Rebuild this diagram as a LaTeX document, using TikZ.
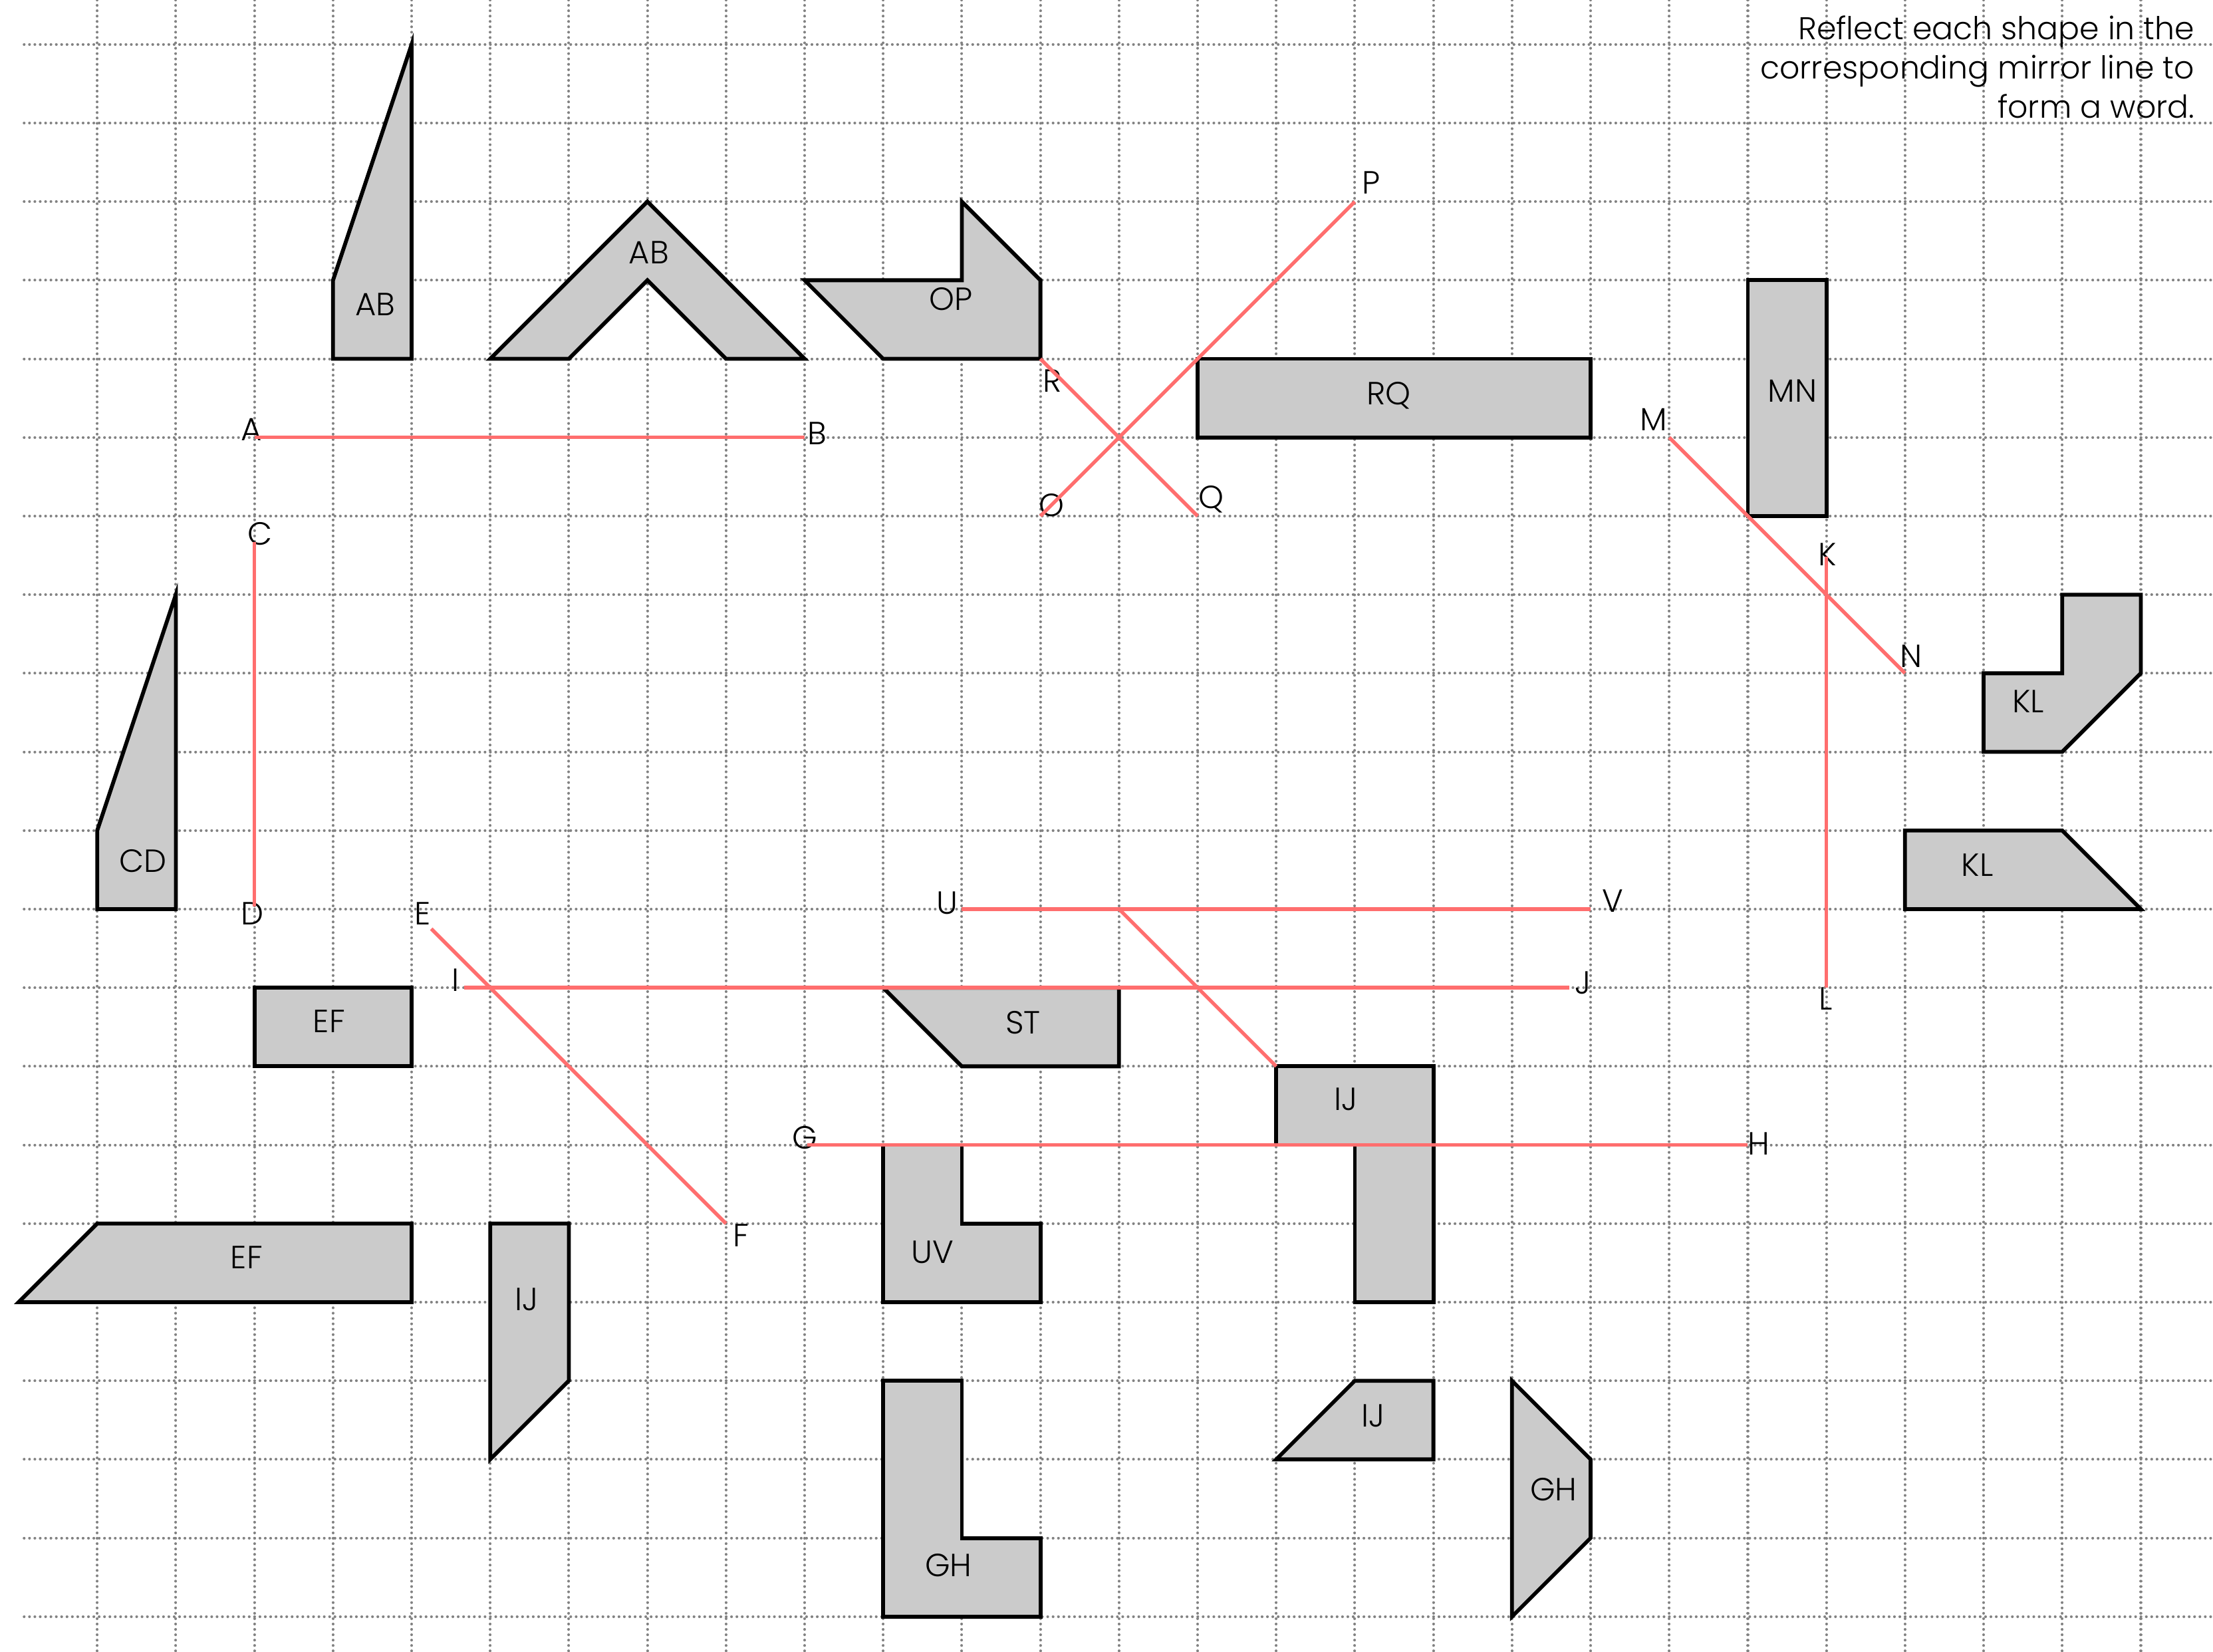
\documentclass[tikz,border=0pt]{standalone}
\usepackage{fontspec}
\setmainfont{Poppins Light}
\definecolor{gridgray}{RGB}{130,130,130}
\definecolor{shapegray}{RGB}{203,203,203}
\definecolor{mirror}{RGB}{255,110,110}
\tikzset{
  gridline/.style={draw=gridgray, line width=1pt, line cap=round, dash pattern=on 0.01pt off 1.93pt},
  shapebox/.style={draw=black, fill=shapegray, line width=1.4pt},
  mirrorline/.style={draw=mirror, line width=1.3pt},
  lbl/.style={inner sep=0pt, text height=8.1pt, text depth=0pt, anchor=center, font=\fontsize{11.6pt}{14.2pt}\selectfont},
  toptext/.style={inner sep=0pt, anchor=base east, font=\fontsize{11.4pt}{14.2pt}\selectfont}
}
\begin{document}
\begin{tikzpicture}[x=1cm,y=-1cm]
\useasboundingbox (-0.237,-0.565) rectangle (27.919,20.45);
% grid
\foreach \i in {1,...,27} \draw[gridline] (\i,-0.565) -- (\i,20.45);
\foreach \j in {0,...,20} \draw[gridline] (0.07,\j) -- (27.919,\j);
% shapes
\draw[shapebox] (5,0) -- (5,4) -- (4,4) -- (4,3) -- cycle;
\draw[shapebox] (6,4) -- (8,2) -- (10,4) -- (9,4) -- (8,3) -- (7,4) -- cycle;
\draw[shapebox] (10,3) -- (12,3) -- (12,2) -- (13,3) -- (13,4) -- (11,4) -- cycle;
\draw[shapebox] (15,4) rectangle (20,5);
\draw[shapebox] (22,3) rectangle (23,6);
\draw[shapebox] (26,7) -- (27,7) -- (27,8) -- (26,9) -- (25,9) -- (25,8) -- (26,8) -- cycle;
\draw[shapebox] (24,10) -- (26,10) -- (27,11) -- (24,11) -- cycle;
\draw[shapebox] (2,7) -- (2,11) -- (1,11) -- (1,10) -- cycle;
\draw[shapebox] (3,12) rectangle (5,13);
\draw[shapebox] (0,16) -- (1,15) -- (5,15) -- (5,16) -- cycle;
\draw[shapebox] (6,15) -- (7,15) -- (7,17) -- (6,18) -- cycle;
\draw[shapebox] (11,12) -- (14,12) -- (14,13) -- (12,13) -- cycle;
\draw[shapebox] (11,14) -- (12,14) -- (12,15) -- (13,15) -- (13,16) -- (11,16) -- cycle;
\draw[shapebox] (16,13) -- (18,13) -- (18,16) -- (17,16) -- (17,14) -- (16,14) -- cycle;
\draw[shapebox] (11,17) -- (12,17) -- (12,19) -- (13,19) -- (13,20) -- (11,20) -- cycle;
\draw[shapebox] (16,18) -- (17,17) -- (18,17) -- (18,18) -- cycle;
\draw[shapebox] (19,17) -- (20,18) -- (20,19) -- (19,20) -- cycle;
% shape labels
\node[lbl] (sAB1) at (4.54,3.31) {AB};
\node[lbl] (sAB2) at (8.02,2.65) {AB};
\node[lbl] (sOP) at (11.86,3.24) {OP};
\node[lbl] (sRQ) at (17.43,4.44) {RQ};
\node[lbl] (sMN) at (22.57,4.41) {MN};
\node[lbl] (sKL1) at (25.57,8.36) {KL};
\node[lbl] (sKL2) at (24.92,10.44) {KL};
\node[lbl] (sCD) at (1.58,10.39) {CD};
\node[lbl] (sEF1) at (3.95,12.43) {EF};
\node[lbl] (sEF2) at (2.9,15.43) {EF};
\node[lbl] (sIJ1) at (6.46,15.96) {IJ};
\node[lbl] (sST) at (12.78,12.44) {ST};
\node[lbl] (sUV) at (11.63,15.36) {UV};
\node[lbl] (sIJ2) at (16.89,13.42) {IJ};
\node[lbl] (sGH1) at (11.83,19.35) {GH};
\node[lbl] (sIJ3) at (17.23,17.44) {IJ};
\node[lbl] (sGH2) at (19.53,18.38) {GH};
% line labels
\node[lbl] (lA) at (2.96,4.9) {A};
\node[lbl] (lB) at (10.16,4.95) {B};
\node[lbl] (lC) at (3.075,6.23) {C};
\node[lbl] (lD) at (2.97,11.06) {D};
\node[lbl] (lE) at (5.14,11.06) {E};
\node[lbl] (lF) at (9.19,15.15) {F};
\node[lbl] (lI) at (5.56,11.9) {I};
\node[lbl] (lJ) at (19.9,11.94) {J};
\node[lbl] (lG) at (10.0,13.91) {G};
\node[lbl] (lH) at (22.14,13.98) {H};
\node[lbl] (lU) at (11.81,10.92) {U};
\node[lbl] (lV) at (20.28,10.9) {V};
\node[lbl] (lO) at (13.14,5.86) {O};
\node[lbl] (lP) at (17.21,1.76) {P};
\node[lbl] (lR) at (13.15,4.28) {R};
\node[lbl] (lQ) at (15.17,5.76) {Q};
\node[lbl] (lM) at (20.8,4.77) {M};
\node[lbl] (lN) at (24.08,7.78) {N};
\node[lbl] (lK) at (23.01,6.49) {K};
\node[lbl] (lL) at (22.99,12.14) {L};
% mirror line end points
\coordinate (a1) at (3,5);      \coordinate (a2) at (10,5);
\coordinate (c1) at (3,6.33);   \coordinate (c2) at (3,10.97);
\coordinate (e1) at (5.25,11.25); \coordinate (e2) at (9,15);
\coordinate (i1) at (5.67,12);  \coordinate (i2) at (19.73,12);
\coordinate (g1) at (10.03,14); \coordinate (g2) at (22,14);
\coordinate (u1) at (12,11);    \coordinate (u2) at (20,11);
\coordinate (d1) at (14,11);    \coordinate (d2) at (16,13);
\coordinate (o1) at (13,6);     \coordinate (o2) at (17,2);
\coordinate (r1) at (13,4);     \coordinate (r2) at (15,6);
\coordinate (m1) at (21,5);     \coordinate (m2) at (24,8);
\coordinate (k1) at (23,6.52);  \coordinate (k2) at (23,12);
% mirror lines
\draw[mirrorline] (a1) -- (a2);
\draw[mirrorline] (c1) -- (c2);
\draw[mirrorline] (e1) -- (e2);
\draw[mirrorline] (i1) -- (i2);
\draw[mirrorline] (g1) -- (g2);
\draw[mirrorline] (u1) -- (u2);
\draw[mirrorline] (d1) -- (d2);
\draw[mirrorline] (o1) -- (o2);
\draw[mirrorline] (r1) -- (r2);
\draw[mirrorline] (m1) -- (m2);
\draw[mirrorline] (k1) -- (k2);
% instructions
\node[toptext] (t1) at (27.69,-0.06) {Reflect each shape in the};
\node[toptext] (t2) at (27.69,0.44) {corresponding mirror line to};
\node[toptext] (t3) at (27.69,0.94) {form a word.};
\end{tikzpicture}
\end{document}
